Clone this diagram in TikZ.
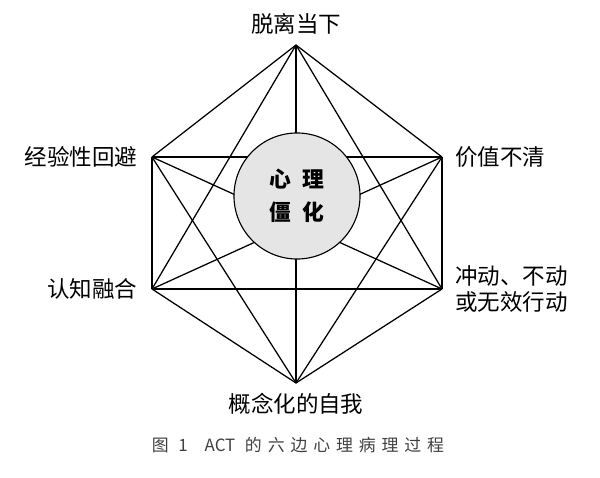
\documentclass[tikz,border=0pt]{standalone}
\usepackage{fontspec}
\setmainfont{Noto Sans CJK SC}
\newfontfamily\capfont[LetterSpace=35]{Noto Sans CJK SC}
\usetikzlibrary{positioning}

\begin{document}
\begin{tikzpicture}[x=0.025cm,y=-0.025cm,line width=0.9pt,node distance=7pt and 9pt,
  lbl/.style={inner sep=0pt,align=left,font=\fontsize{16}{18.5}\selectfont}]
\useasboundingbox (0,0) rectangle (600,478);
% the six corners of the hexaflex
\coordinate (tl) at (296,45);
\coordinate (jz) at (442,157);
\coordinate (cd) at (442,289);
\coordinate (gn) at (296,383);
\coordinate (rz) at (152,289);
\coordinate (jy) at (152,157);
\foreach \a/\b in {tl/jz,tl/cd,tl/gn,tl/rz,tl/jy,jz/cd,jz/gn,jz/rz,jz/jy,cd/gn,cd/rz,cd/jy,gn/rz,gn/jy,rz/jy}
  \draw (\a) -- (\b);
\node[circle,draw,fill=black!10,line width=0.8pt,minimum size=3.15cm,align=center,
  font=\fontsize{15.5}{23.5}\selectfont\bfseries] (jh) at (297,196) {心\hspace{0.5em}理\\僵\hspace{0.5em}化};
% labels
\node[lbl,above=of tl] (tltxt) {脱离当下};
\node[lbl,right=of jz] (jztxt) {价值不清};
\node[lbl,right=of cd] (cdtxt) {冲动、不动\\或无效行动};
\node[lbl,below=of gn] (gntxt) {概念化的自我};
\node[lbl,left=10pt of rz] (rztxt) {认知融合};
\node[lbl,left=10pt of jy] (jytxt) {经验性回避};
\node[inner sep=0pt,text=black!75,font=\capfont\fontsize{12}{14}\selectfont] (cap) at (298,445) {图 1\quad{\rmfamily ACT}\ 的六边心理病理过程};
\end{tikzpicture}
\end{document}
